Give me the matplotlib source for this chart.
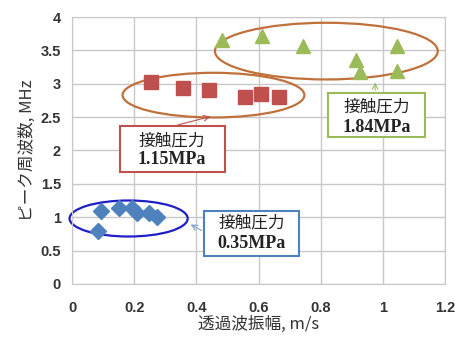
#Import modules
import numpy as np
import matplotlib
matplotlib.use("Agg")
import matplotlib.pyplot as plt
from matplotlib.patches import Ellipse, Rectangle

#Data
amp_035 = [0.093, 0.151, 0.192, 0.210, 0.249, 0.274, 0.085]
freq_035 = [1.10, 1.14, 1.14, 1.06, 1.07, 1.01, 0.79]
amp_115 = [0.253, 0.358, 0.440, 0.558, 0.608, 0.666]
freq_115 = [3.02, 2.93, 2.90, 2.80, 2.84, 2.80]
amp_184 = [0.484, 0.610, 0.744, 1.045, 0.913, 0.927, 1.047]
freq_184 = [3.65, 3.71, 3.57, 3.57, 3.35, 3.18, 3.19]

jp = ['Noto Sans CJK JP', 'DejaVu Sans']
num = 'Liberation Serif'

#Set up the frame
fig = plt.figure(figsize=(4.56, 3.42), dpi=100)
ax = fig.add_axes([0.158, 0.170, 0.818, 0.780])
ax.set_xlim(0, 1.2)
ax.set_ylim(0, 4)
ax.set_xticks(np.arange(0, 1.21, 0.2))
ax.set_yticks(np.arange(0, 4.01, 0.5))
ax.set_xticklabels(['%g' % round(v, 1) for v in np.arange(0, 1.21, 0.2)])
ax.set_yticklabels(['%g' % v for v in np.arange(0, 4.01, 0.5)])
for lab in ax.get_xticklabels() + ax.get_yticklabels():
    lab.set_fontfamily('Liberation Sans')
    lab.set_fontweight('bold')
    lab.set_fontsize(10.5)
    lab.set_color('#333333')
ax.tick_params(length=0, pad=8)
ax.tick_params(axis='x', pad=12)
ax.grid(True, color='#C8C8C8', lw=1)
ax.set_axisbelow(True)
for s in ax.spines.values():
    s.set_color('#C8C8C8')

ax.set_xlabel('透過波振幅, m/s', family=jp, fontsize=12, color='#333333', labelpad=1)
ax.set_ylabel('ピーク周波数, MHz', family=jp, fontsize=12, color='#333333', labelpad=3)

#Points
ax.plot(amp_035, freq_035, 'D', color='#4F81BD', ms=8, mec='#4F81BD')
ax.plot(amp_115, freq_115, 's', color='#C0504D', ms=9.5, mec='#C0504D')
ax.plot(amp_184, freq_184, '^', color='#9BBB59', ms=9.5, mec='#9BBB59')

#Group ellipses
ax.add_patch(Ellipse((0.182, 0.98), 0.38, 0.54, fill=False, ec='#1F1FC8', lw=1.6, clip_on=False))
ax.add_patch(Ellipse((0.455, 2.83), 0.585, 0.67, fill=False, ec='#C0703A', lw=1.6))
ax.add_patch(Ellipse((0.818, 3.49), 0.717, 0.85, fill=False, ec='#C0703A', lw=1.6))

#Label boxes
def labelBox(x0, x1, y0, y1, col, xc, yl1, yl2, txt):
    ax.add_patch(Rectangle((x0, y0), x1 - x0, y1 - y0, fc='white', ec=col, lw=1.5, zorder=4))
    ax.text(xc, yl1, '接触圧力', family=jp, fontsize=12, ha='center', va='center', zorder=5, color='#222222')
    ax.text(xc, yl2, txt, family=num, weight='bold', fontsize=13, ha='center', va='center', zorder=5, color='#222222')

labelBox(0.154, 0.492, 1.678, 2.367, '#C0504D', 0.322, 2.14, 1.87, '1.15MPa')
labelBox(0.824, 1.136, 2.202, 2.861, '#9BBB59', 0.98, 2.65, 2.35, '1.84MPa')
labelBox(0.425, 0.730, 0.424, 1.098, '#4F81BD', 0.578, 0.91, 0.60, '0.35MPa')

#Pointer arrows
ax.annotate('', xy=(0.454, 2.52), xytext=(0.33, 2.37),
            arrowprops=dict(arrowstyle='->', color='#C0504D', lw=0.8))
ax.annotate('', xy=(0.975, 3.06), xytext=(0.975, 2.86),
            arrowprops=dict(arrowstyle='->', color='#9BBB59', lw=0.8))
ax.annotate('', xy=(0.374, 0.91), xytext=(0.425, 0.78),
            arrowprops=dict(arrowstyle='->', color='#7F9FCF', lw=0.8))

fig.savefig('out.png', dpi=100)
